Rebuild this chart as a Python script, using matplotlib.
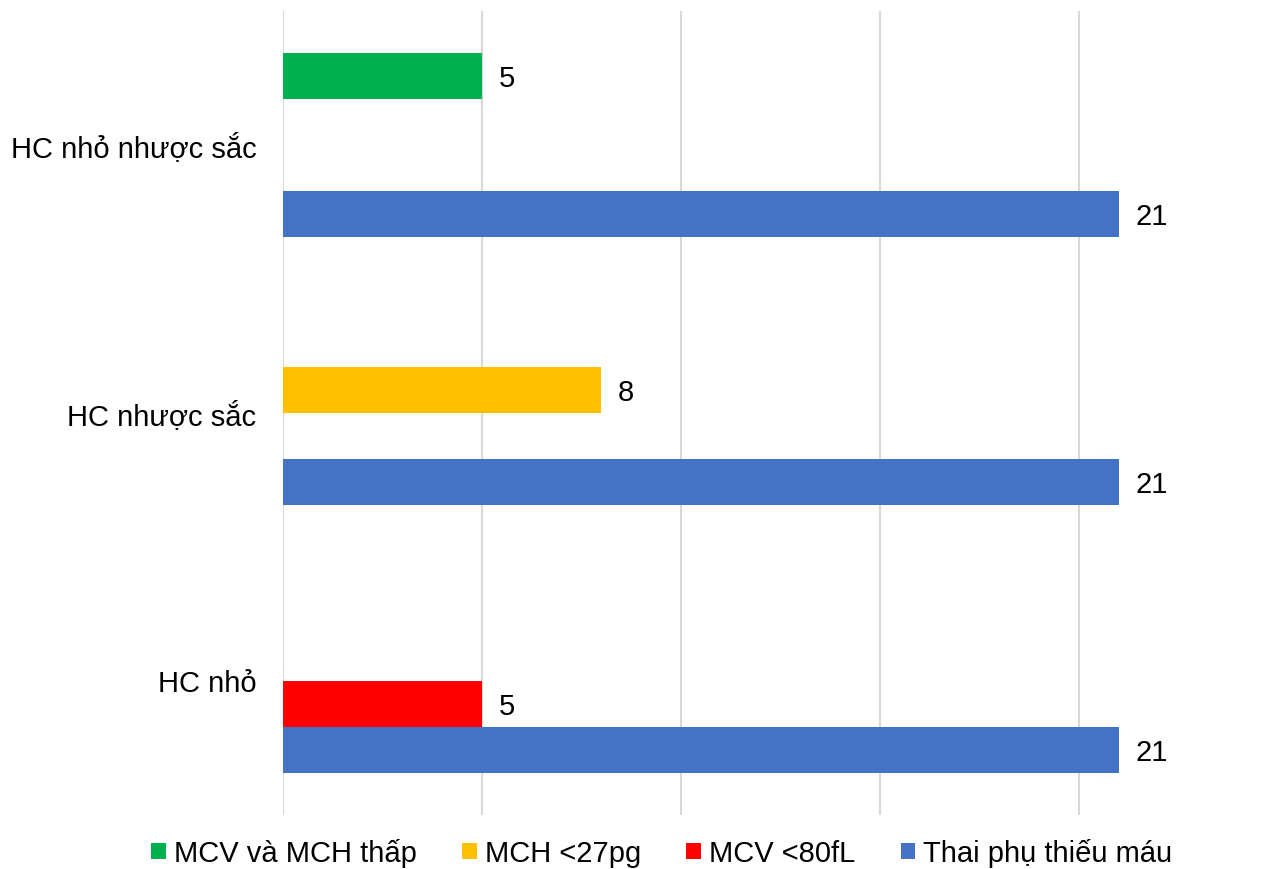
import numpy as np
import matplotlib
matplotlib.use("Agg")
import matplotlib.pyplot as plt
from matplotlib.patches import Patch

plt.rcParams['font.family'] = ['Liberation Sans', 'DejaVu Sans']

# bottom to top, as the categories sit on the axis
categories = ["HC nhỏ", "HC nhược sắc", "HC nhỏ nhược sắc"]

# series in slot order, lowest bar in each group first
series_names = ["Thai phụ thiếu máu", "MCV <80fL", "MCH <27pg", "MCV và MCH thấp"]
thai_phu = [21, 21, 21]
mcv_80 = [5, 0, 0]
mch_27 = [0, 8, 0]
mcv_mch = [0, 0, 5]
series_values = [thai_phu, mcv_80, mch_27, mcv_mch]
series_colors = ["#4472C4", "#FF0000", "#FFC000", "#00B050"]

legend_order = ["MCV và MCH thấp", "MCH <27pg", "MCV <80fL", "Thai phụ thiếu máu"]

fig = plt.figure(figsize=(12.79, 8.69), dpi=100)
ax = fig.add_axes([283 / 1279, 1 - 815 / 869, (1278 - 283) / 1279, 804 / 869])

y = np.arange(len(categories))
bar_h = 46 / 268
offsets = (np.arange(len(series_names)) - 1.5) * bar_h

for name, vals, color, off in zip(series_names, series_values, series_colors, offsets):
    vals = np.array(vals, dtype=float)
    bars = ax.barh(y + off, vals, height=bar_h, color=color, label=name, zorder=2)
    for b, v in zip(bars, vals):
        if v > 0:
            ax.text(v + 0.42, b.get_y() + b.get_height() / 2, f"{v:g}",
                    va="center_baseline", ha="left", fontsize=21, color="black")

ax.set_xlim(0, 25)
ax.set_ylim(-0.5, len(categories) - 0.5)
ax.set_xticks([0, 5, 10, 15, 20])
ax.set_xticklabels([])
ax.set_yticks(y)
ax.set_yticklabels(categories, fontsize=21)
ax.tick_params(axis="both", length=0)
ax.tick_params(axis="y", pad=19)
ax.grid(axis="x", color="#D9D9D9", linewidth=1.5, zorder=0)
ax.set_axisbelow(True)
for s in ax.spines.values():
    s.set_visible(False)

color_map = dict(zip(series_names, series_colors))
handles = [Patch(facecolor=color_map[n], edgecolor="none", label=n) for n in legend_order]
fig.legend(handles=handles, loc="center", bbox_to_anchor=(662 / 1279, 1 - 853 / 869),
           ncol=4, frameon=False, fontsize=21, handlelength=0.5, handleheight=0.5,
           handletextpad=0.28, columnspacing=1.55, borderaxespad=0, borderpad=0)

fig.savefig("out.png", dpi=100, facecolor="white")
